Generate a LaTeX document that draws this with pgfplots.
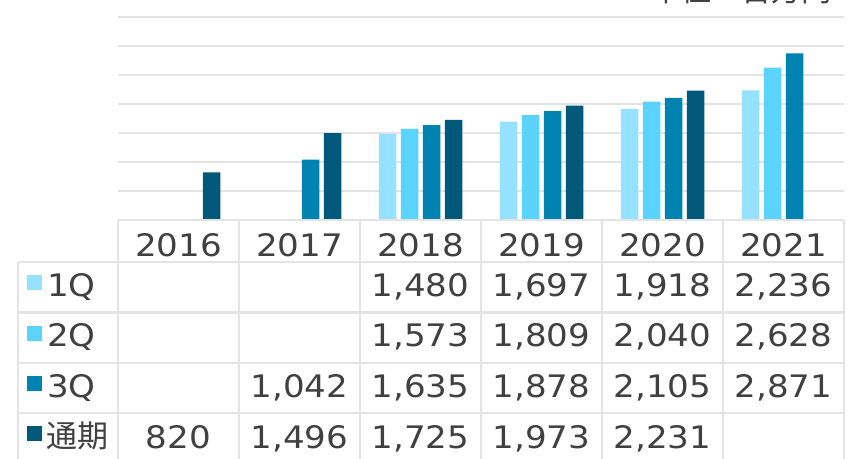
\documentclass[border=0pt]{standalone}
\usepackage{pgfplots}
\pgfplotsset{compat=1.18}
\usepackage{pgfplotstable}
\usepackage{fontspec}
\setmainfont[FakeStretch=1.1]{DejaVu Sans}
\newfontfamily\jp{Noto Sans CJK JP}
\definecolor{cA}{HTML}{94E2FF}
\definecolor{cB}{HTML}{5BD3FF}
\definecolor{cC}{HTML}{0083B0}
\definecolor{cD}{HTML}{00597A}
\definecolor{gridc}{HTML}{E3E3E3}
\definecolor{txt}{HTML}{404040}
\pgfplotstableread{
x q1 q2 q3 fy
0 nan nan nan 820
1 nan nan 1042 1496
2 1480 1573 1635 1725
3 1697 1809 1878 1973
4 1918 2040 2105 2231
5 2236 2628 2871 nan
}\data
\begin{document}
\begin{tikzpicture}
\begin{axis}[
  at={(118pt,-220pt)}, anchor=south west,
  scale only axis, width=726pt, height=232pt,
  xmin=-0.5, xmax=5.5, ymin=0, ymax=4000,
  ybar=4.5pt, bar width=17.5pt,
  axis line style={draw=none},
  xtick=\empty, ytick={0,500,...,4000}, yticklabels={},
  tick style={draw=none},
  ymajorgrids, grid style={draw=gridc, line width=2.5pt},
]
\addplot[fill=cA, draw=none] table[x=x,y=q1]{\data};
\addplot[fill=cB, draw=none] table[x=x,y=q2]{\data};
\addplot[fill=cC, draw=none] table[x=x,y=q3]{\data};
\addplot[fill=cD, draw=none] table[x=x,y=fy]{\data};
\end{axis}
\begin{scope}[x=1pt,y=-1pt]
% table lines
\draw[gridc, line width=2.5pt] (118,220) -- (844,220);
\foreach \yy in {262,312.5,363,413} \draw[gridc, line width=2.5pt] (18,\yy) -- (844,\yy);
\foreach \xx in {118,239,360,481,602,723,844} \draw[gridc, line width=2.5pt] (\xx,220) -- (\xx,470);
\draw[gridc, line width=2.5pt] (18,262) -- (18,470);
\begin{scope}[every node/.style={text=txt, font=\fontsize{31}{36}\selectfont, inner sep=0pt, anchor=base}]
% header
\foreach \yr [count=\i from 0] in {2016,2017,2018,2019,2020,2021}
  \node at ({178.5+121*\i},256) {\yr};
% legend squares and labels
\fill[cA] (27,275) rectangle (42,290);
\fill[cB] (27,325.5) rectangle (42,340.5);
\fill[cC] (27,376) rectangle (42,391);
\fill[cD] (27,426) rectangle (42,441);
\node[anchor=base west] at (47,296) {1Q};
\node[anchor=base west] at (47,346.5) {2Q};
\node[anchor=base west] at (47,397) {3Q};
\node[anchor=base west] at (46,447) {\jp 通期};
% row 1Q
\node at (420.5,296) {1,480};
\node at (541.5,296) {1,697};
\node at (662.5,296) {1,918};
\node at (783.5,296) {2,236};
% row 2Q
\node at (420.5,346.5) {1,573};
\node at (541.5,346.5) {1,809};
\node at (662.5,346.5) {2,040};
\node at (783.5,346.5) {2,628};
% row 3Q
\node at (299.5,397) {1,042};
\node at (420.5,397) {1,635};
\node at (541.5,397) {1,878};
\node at (662.5,397) {2,105};
\node at (783.5,397) {2,871};
% row FY
\node at (178.5,448) {820};
\node at (299.5,448) {1,496};
\node at (420.5,448) {1,725};
\node at (541.5,448) {1,973};
\node at (662.5,448) {2,231};
% unit label (cut off at top, as in the reference)
\node[anchor=base east, font=\jp\fontsize{30}{36}\selectfont] at (832,1.5) {単位：百万円};
\end{scope}
\end{scope}
\pgfresetboundingbox
\useasboundingbox (0pt,0pt) rectangle (854pt,-458pt);
\end{tikzpicture}
\end{document}
